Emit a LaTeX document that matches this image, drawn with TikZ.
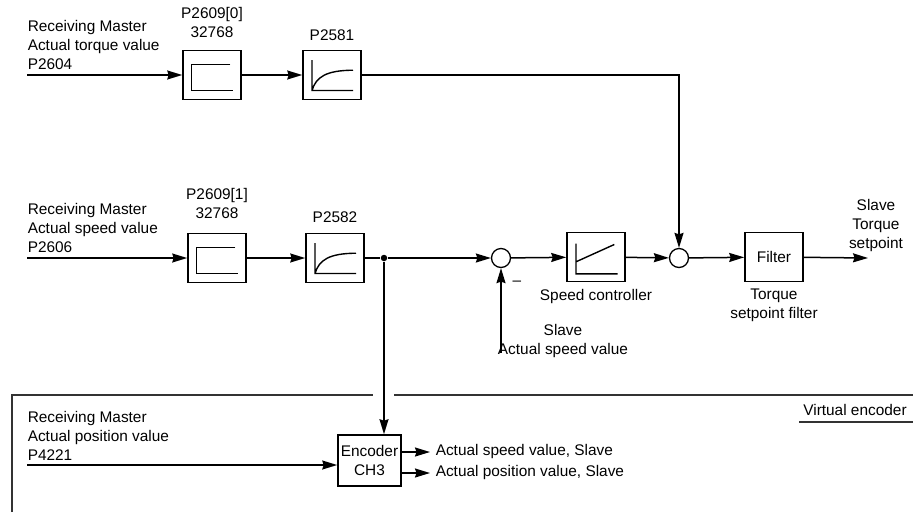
\documentclass[tikz,border=0pt]{standalone}
\usepackage{fontspec}
\setmainfont{Liberation Sans}
\usetikzlibrary{arrows.meta}
\begin{document}
\begin{tikzpicture}[x=1pt, y=-1pt, line width=1.5pt,
    >={Stealth[length=15pt,width=9pt,inset=1.5pt]},
    font=\fontsize{15.4}{19}\selectfont,
    block/.style={draw, line width=1.6pt, minimum width=58pt, minimum height=49pt, inner sep=0pt},
    limiter/.style={block, path picture={
        \draw[shift={(path picture bounding box.center)}, x=1pt, y=1pt, line width=1.4pt]
            (18.3,10.8) -- (-20.7,10.8) -- (-20.7,-15.5) -- (21,-15.5);}},
    lowpass/.style={block, path picture={
        \draw[shift={(path picture bounding box.center)}, x=1pt, y=1pt, line width=1.4pt]
            (-20,14.8) -- (-20,-15.5) -- (21,-15.5)
            (-20,-15.5) .. controls (-16,-2) and (-6,4.6) .. (21,4.8);}},
    ramp/.style={block, path picture={
        \draw[shift={(path picture bounding box.center)}, x=1pt, y=1pt, line width=1.4pt]
            (-20,13.5) -- (-20,-16.8) -- (21.7,-16.8)
            (-20,-4.8) -- (18.3,12.5);}},
    sum/.style={circle, draw, line width=1.3pt, minimum size=19pt, inner sep=0pt},
    dot/.style={circle, fill, inner sep=0pt, minimum size=6.5pt},
    txt/.style={align=left, inner sep=0pt},
    lbl/.style={align=center, inner sep=0pt}]
    \useasboundingbox (0,0) rectangle (913,512);
    % torque row
    \coordinate (tin) at (27,75);
    \node[limiter, label={[lbl, label distance=11pt]above:{P2609[0]\\32768}}] (lim0) at (212,75) {};
    \node[lowpass, label={[lbl, label distance=8pt]above:P2581}] (pt0) at (332,75) {};
    \node[txt, anchor=south west] (tlbl) at (27,70) {Receiving Master\\Actual torque value\\P2604};
    % speed row
    \coordinate (sin) at (27,258);
    \node[limiter, label={[lbl, label distance=13pt]above:{P2609[1]\\32768}}] (lim1) at (217,258) {};
    \node[lowpass, label={[lbl, label distance=9pt]above:P2582}] (pt1) at (335,258) {};
    \node[txt, anchor=south west] (slbl) at (27,253.5) {Receiving Master\\Actual speed value\\P2606};
    \node[dot] (br) at (384,258) {};
    \node[sum] (sum1) at (501,258) {};
    \node[ramp, label={[lbl, label distance=6pt]below:Speed controller}] (ctrl) at (596,257) {};
    \node[sum] (sum2) at (679,258) {};
    \node[block, label={[lbl, label distance=6pt]below:{Torque\\setpoint filter}}] (filt) at (774,257) {Filter};
    \coordinate (tout) at (868,258);
    \node[lbl, anchor=south] (tset) at (876,252) {Slave\\Torque\\setpoint};
    \node[lbl] (minus) at (517,283) {--};
    \coordinate (fb) at (501,353);
    \node[lbl] (fblbl) at (563,341) {Slave\\Actual speed value};
    % virtual encoder
    \draw[line width=1.4pt, black!80] (12,512) -- (12,395) -- (373,395) (394,395) -- (913,395);
    \node[lbl] (venc) at (855,410) {Virtual encoder};
    \draw[line width=1.4pt, black!80] (799,422) -- (913,422);
    \node[block, minimum width=63pt, minimum height=51pt, align=center] (enc) at (369.5,460.5) {Encoder\\CH3};
    \coordinate (pin) at (27,465);
    \node[txt, anchor=south west] (plbl) at (27,461) {Receiving Master\\Actual position value\\P4221};
    \node[txt, anchor=west] (ospd) at (435,452) {Actual speed value, Slave};
    \node[txt, anchor=west] (opos) at (435,473) {Actual position value, Slave};
    % connectors
    \draw[->] (tin) -- (lim0);
    \draw[->] (lim0) -- (pt0);
    \draw[->] (pt0) -| (sum2);
    \draw[->] (sin) -- (lim1);
    \draw[->] (lim1) -- (pt1);
    \draw (pt1) -- (br);
    \draw[->] (br) -- (sum1);
    \draw[->] (sum1) -- (ctrl);
    \draw[->] (ctrl) -- (sum2);
    \draw[->] (sum2) -- (filt);
    \draw[->] (filt) -- (tout);
    \draw[->] (fb) -- (sum1);
    \draw[->] (br) -- (br |- enc.north);
    \draw[->] (pin) -- (pin -| enc.west);
    \draw[->] (enc.east |- ospd) -- ([xshift=-5pt]ospd.west);
    \draw[->] (enc.east |- opos) -- ([xshift=-5pt]opos.west);
\end{tikzpicture}
\end{document}
